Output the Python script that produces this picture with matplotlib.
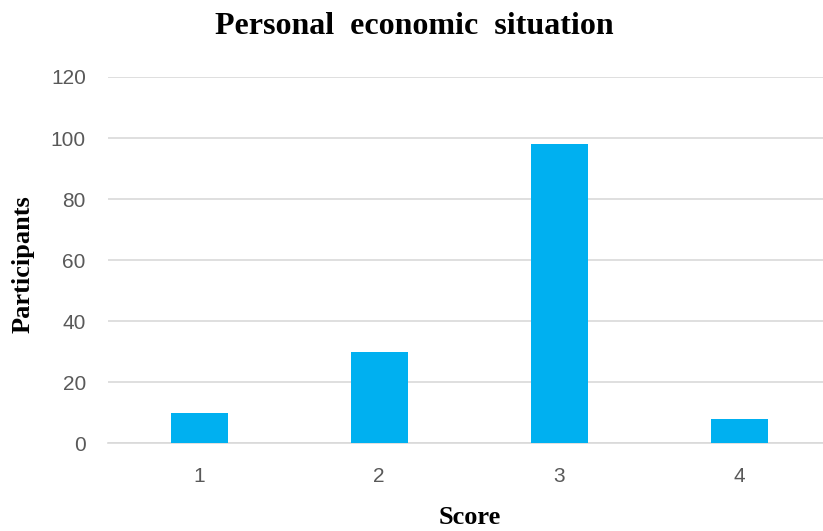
import matplotlib.pyplot as plt

# Data
scores = [1, 2, 3, 4]
participants = [10, 30, 98, 8]
yticks = [0, 20, 40, 60, 80, 100, 120]

fig = plt.figure(figsize=(8.23, 5.31), dpi=100)
ax = fig.add_axes([0.1312, 0.1648, 0.8688, 0.6902])

ax.bar(scores, participants, width=0.317, color='#00B0F0', zorder=3)

ax.set_xlim(0.494, 4.466)
ax.set_ylim(0, 120)
ax.set_yticks(yticks)
ax.set_xticks(scores)
ax.grid(axis='y', color='#D9D9D9', linewidth=1.2, zorder=0)
for s in ['top', 'right', 'left']:
    ax.spines[s].set_visible(False)
ax.spines['bottom'].set_color('#D9D9D9')
ax.spines['bottom'].set_linewidth(1.2)
ax.tick_params(axis='y', length=0, labelsize=15, labelcolor='#595959', pad=16)
ax.tick_params(axis='x', length=0, labelsize=15, labelcolor='#595959', pad=17)
for lab in ax.get_xticklabels() + ax.get_yticklabels():
    lab.set_family('Liberation Sans')

serif = {'family': 'Liberation Serif', 'weight': 'bold'}
fig.text(0.504, 0.950, 'Personal  economic  situation', ha='center', va='center', fontsize=23, **serif)
fig.text(0.571, 0.026, 'Score', ha='center', va='center', fontsize=19, **serif)
fig.text(0.028, 0.503, 'Participants', ha='center', va='center', rotation=90, fontsize=19, **serif)

plt.savefig('out.png', dpi=100)
